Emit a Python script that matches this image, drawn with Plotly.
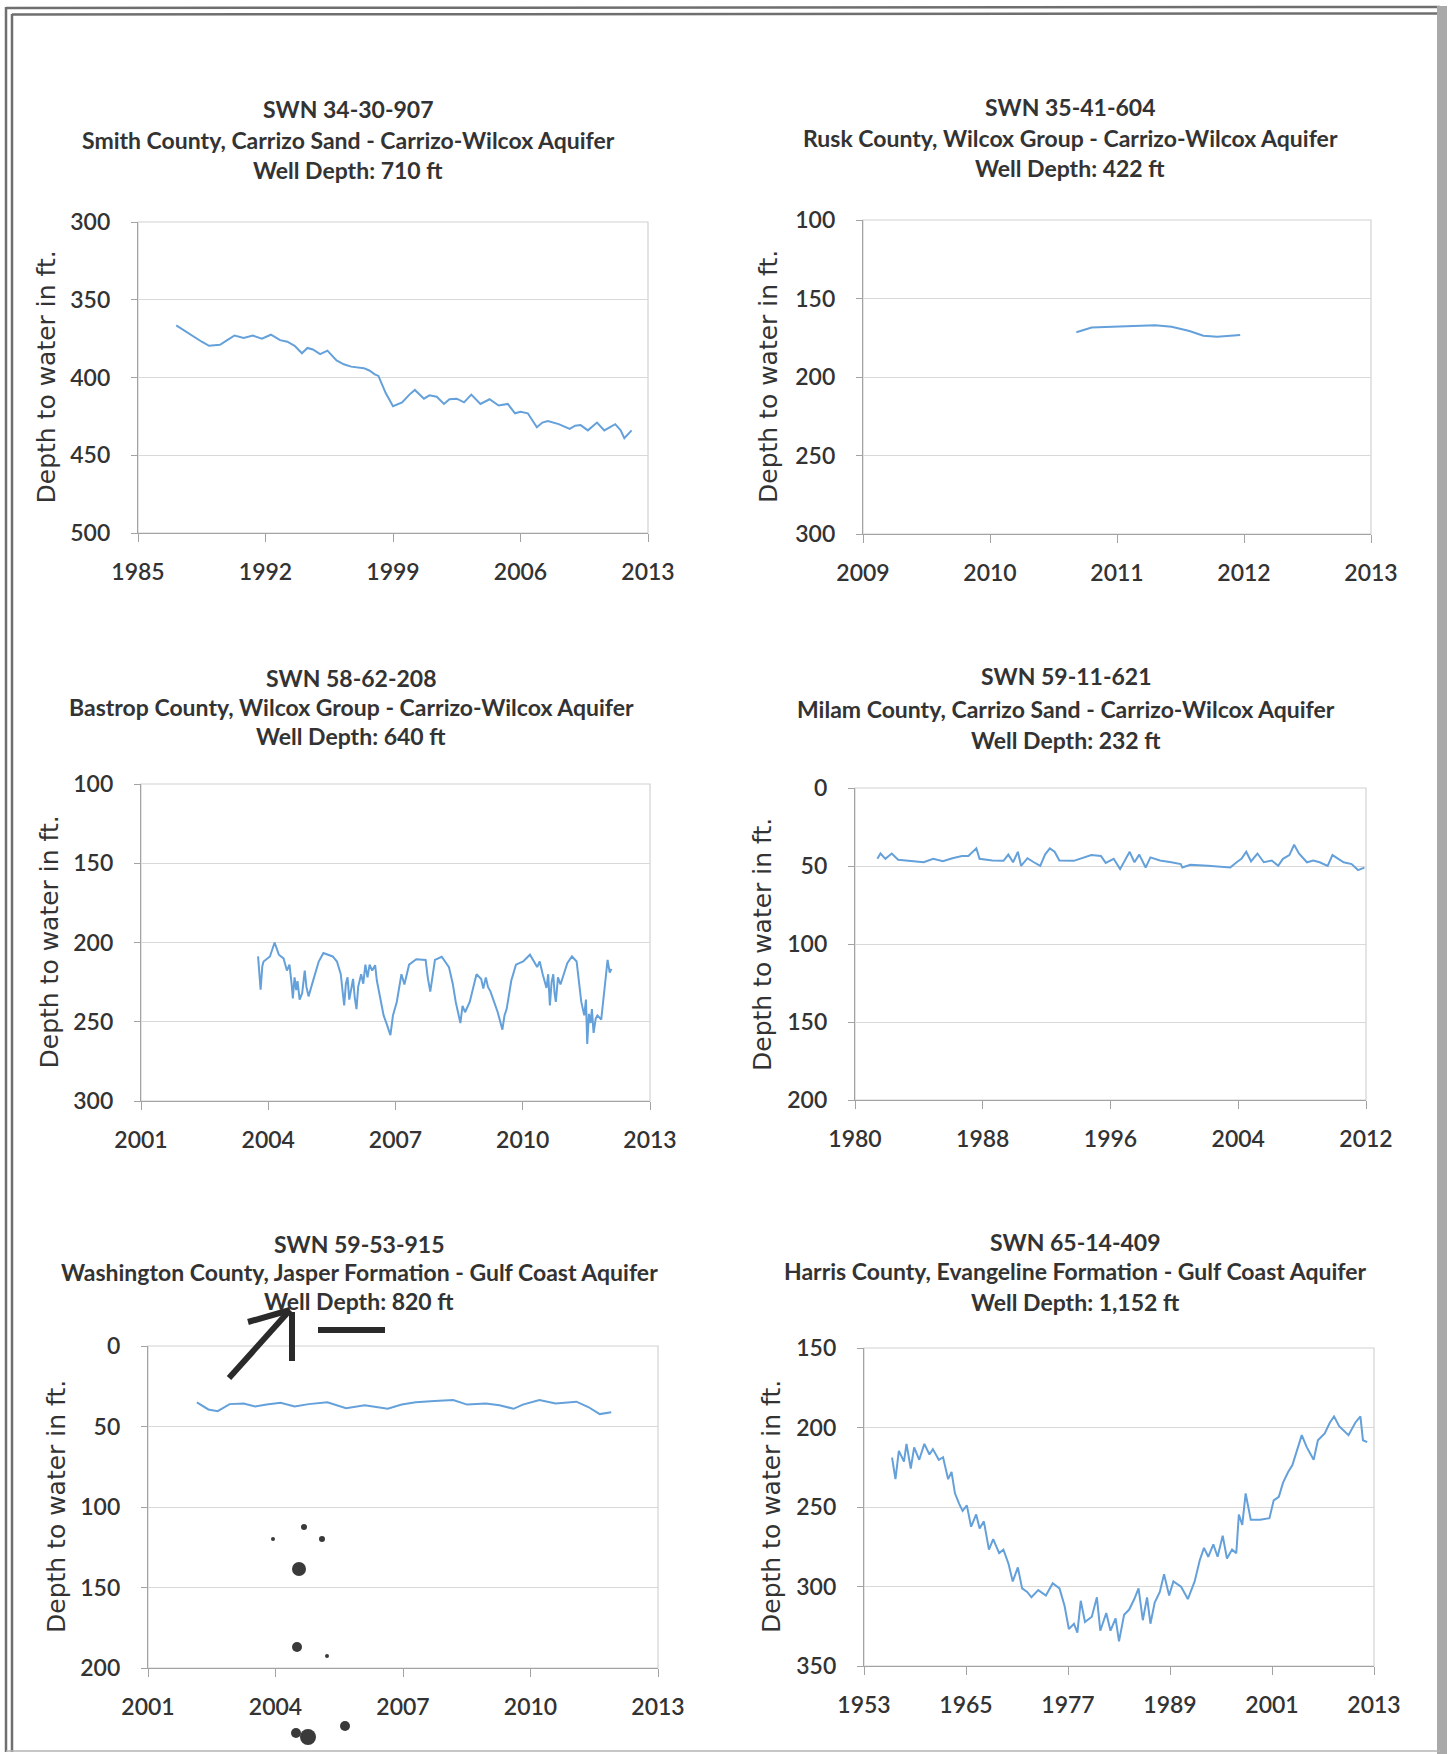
import plotly.graph_objects as go

W, H = 1454, 1754

# ---------------- data (decimal year, depth to water in ft) ----------------
smith_year = [1987.1, 1987.5, 1988.0, 1988.5, 1988.9, 1989.5, 1989.9, 1990.3, 1990.8, 1991.3, 1991.8,
              1992.3, 1992.8, 1993.2, 1993.6, 1994.0, 1994.3, 1994.6, 1995.0, 1995.4, 1995.9, 1996.3,
              1996.7, 1997.0, 1997.4, 1997.7, 1998.0, 1998.2, 1998.6, 1999.0, 1999.5, 1999.9, 2000.2,
              2000.7, 2001.0, 2001.4, 2001.8, 2002.1, 2002.5, 2002.9, 2003.3, 2003.8, 2004.3, 2004.8,
              2005.3, 2005.7, 2006.0, 2006.4, 2006.9, 2007.2, 2007.5, 2008.1, 2008.7, 2009.0, 2009.3,
              2009.7, 2010.2, 2010.6, 2010.9, 2011.2, 2011.5, 2011.7, 2012.1]
smith_depth = [366.5, 369.5, 373.5, 377.0, 379.6, 379.0, 376.0, 373.0, 374.5, 373.0, 375.0,
               372.5, 376.0, 377.0, 379.6, 384.4, 381.0, 382.0, 385.0, 382.7, 389.0, 391.5,
               393.0, 393.5, 394.0, 395.5, 398.0, 399.0, 410.0, 418.5, 416.0, 411.0, 408.0,
               413.6, 411.5, 412.4, 417.0, 414.0, 413.6, 416.0, 411.0, 417.0, 414.0, 418.0,
               417.0, 423.0, 422.0, 423.0, 432.0, 429.0, 428.0, 430.0, 433.0, 431.0, 430.6,
               434.0, 429.0, 434.0, 432.0, 430.0, 434.0, 439.0, 434.0]

rusk_year = [2010.68, 2010.8, 2011.02, 2011.3, 2011.43, 2011.57, 2011.68, 2011.79, 2011.97]
rusk_depth = [171.5, 168.5, 167.8, 167.0, 168.0, 170.7, 173.7, 174.4, 173.2]

bastrop_year = [2003.76, 2003.80, 2003.82, 2003.86, 2003.89, 2004.04, 2004.15, 2004.25, 2004.36, 2004.44,
                2004.5, 2004.55, 2004.58, 2004.62, 2004.66, 2004.69, 2004.74, 2004.8, 2004.86, 2004.9,
                2004.95, 2005.08, 2005.19, 2005.3, 2005.52, 2005.62, 2005.71, 2005.75, 2005.79, 2005.83,
                2005.87, 2005.91, 2005.95, 2006.0, 2006.04, 2006.08, 2006.12, 2006.19, 2006.24, 2006.29,
                2006.34, 2006.39, 2006.45, 2006.52, 2006.56, 2006.61, 2006.72, 2006.8, 2006.88, 2006.94,
                2007.03, 2007.14, 2007.21, 2007.32, 2007.49, 2007.71, 2007.76, 2007.82, 2007.88, 2007.93,
                2008.09, 2008.26, 2008.35, 2008.42, 2008.53, 2008.58, 2008.64, 2008.75, 2008.91, 2009.02,
                2009.07, 2009.13, 2009.18, 2009.24, 2009.41, 2009.52, 2009.57, 2009.62, 2009.73, 2009.84,
                2010.01, 2010.17, 2010.34, 2010.4, 2010.47, 2010.52, 2010.56, 2010.6, 2010.64, 2010.68,
                2010.72, 2010.75, 2010.78, 2010.83, 2010.89, 2011.05, 2011.16, 2011.27, 2011.38, 2011.45,
                2011.49, 2011.52, 2011.56, 2011.6, 2011.63, 2011.67, 2011.72, 2011.76, 2011.85, 2011.93,
                2012.0, 2012.05, 2012.09]
bastrop_depth = [208.8, 222.0, 229.8, 215.0, 212.0, 208.8, 200.0, 207.7, 210.0, 217.7,
                 214.0, 226.0, 235.3, 222.0, 230.0, 224.3, 236.0, 232.0, 217.7, 228.0,
                 234.0, 222.0, 212.0, 206.6, 208.8, 212.0, 220.0, 230.0, 239.7, 226.0,
                 222.0, 236.0, 231.0, 223.0, 235.0, 242.0, 228.0, 220.0, 226.0, 214.0,
                 222.0, 214.0, 217.7, 214.3, 224.0, 231.0, 246.0, 252.0, 258.5, 246.0,
                 237.5, 220.0, 226.5, 214.0, 210.6, 211.0, 222.0, 231.0, 218.0, 211.0,
                 209.0, 215.5, 226.0, 237.5, 250.8, 240.0, 244.0, 237.5, 220.0, 223.0,
                 229.0, 222.0, 228.0, 231.0, 244.0, 255.0, 246.0, 242.0, 224.0, 214.0,
                 212.0, 207.7, 215.5, 212.0, 220.0, 226.0, 228.7, 220.0, 239.7, 225.0,
                 220.0, 232.0, 237.5, 222.0, 226.5, 213.0, 208.8, 212.0, 237.5, 246.0,
                 236.0, 264.0, 245.0, 250.8, 242.0, 257.0, 248.0, 246.0, 248.6, 228.7,
                 211.0, 219.0, 216.6]

milam_year = [1981.4, 1981.6, 1981.9, 1982.3, 1982.7, 1983.5, 1984.3, 1984.9, 1985.5, 1986.1,
              1986.7, 1987.1, 1987.6, 1987.8, 1988.6, 1989.3, 1989.6, 1989.9, 1990.2, 1990.4,
              1990.8, 1991.2, 1991.6, 1991.9, 1992.2, 1992.5, 1992.8, 1993.7, 1994.8, 1995.4,
              1995.7, 1996.2, 1996.6, 1997.2, 1997.5, 1997.8, 1998.2, 1998.5, 1999.1, 1999.8,
              2000.4, 2000.5, 2001.0, 2002.1, 2003.5, 2003.9, 2004.2, 2004.5, 2004.8, 2005.2,
              2005.6, 2006.1, 2006.5, 2006.8, 2007.2, 2007.5, 2007.8, 2008.3, 2008.7, 2009.1,
              2009.6, 2009.9, 2010.3, 2010.6, 2011.1, 2011.5, 2011.9]
milam_depth = [45.4, 42.0, 45.4, 42.0, 46.0, 47.0, 47.6, 45.4, 47.0, 45.0,
               43.6, 43.6, 38.7, 45.4, 46.5, 46.7, 42.7, 47.6, 40.9, 49.9,
               45.0, 47.6, 49.9, 42.7, 38.7, 40.9, 46.5, 46.7, 43.0, 43.6,
               48.0, 45.4, 52.0, 40.9, 47.6, 42.7, 51.0, 44.5, 46.5, 47.6,
               48.8, 51.0, 49.2, 49.9, 51.0, 47.6, 45.4, 40.9, 47.0, 42.0,
               47.6, 46.5, 49.9, 45.4, 43.0, 36.4, 42.0, 47.6, 46.5, 47.6,
               49.9, 43.0, 45.4, 47.6, 48.8, 52.6, 51.0]

washington_year = [2002.15, 2002.42, 2002.64, 2002.92, 2003.25, 2003.52, 2003.79, 2004.12, 2004.45, 2004.78,
                   2005.22, 2005.66, 2006.1, 2006.64, 2006.97, 2007.3, 2007.74, 2008.18, 2008.51, 2008.95,
                   2009.27, 2009.6, 2009.82, 2010.21, 2010.59, 2011.08, 2011.36, 2011.63, 2011.9]
washington_depth = [35.0, 39.4, 40.5, 36.1, 35.7, 37.5, 36.4, 35.3, 37.5, 36.1,
                    35.0, 38.6, 36.8, 39.0, 36.4, 35.0, 34.2, 33.5, 36.4, 35.7,
                    36.8, 39.0, 36.4, 33.5, 35.7, 34.6, 37.9, 42.3, 41.2]

harris_year = [1956.3, 1956.7, 1957.1, 1957.7, 1958.0, 1958.5, 1958.9, 1959.5, 1960.1, 1960.7,
               1961.1, 1961.8, 1962.3, 1962.9, 1963.3, 1963.7, 1964.2, 1964.6, 1965.1, 1965.6,
               1966.2, 1966.6, 1967.1, 1967.7, 1968.2, 1968.9, 1969.4, 1970.0, 1970.5, 1971.1,
               1971.6, 1972.2, 1972.7, 1973.5, 1974.4, 1975.2, 1976.0, 1976.6, 1977.1, 1977.7,
               1978.1, 1978.5, 1979.0, 1979.8, 1980.4, 1980.8, 1981.5, 1982.0, 1982.6, 1983.0,
               1983.6, 1984.2, 1984.8, 1985.3, 1985.8, 1986.3, 1986.7, 1987.2, 1987.8, 1988.3,
               1988.9, 1989.4, 1990.3, 1991.1, 1991.9, 1992.5, 1993.0, 1993.5, 1994.1, 1994.6,
               1995.2, 1995.7, 1996.3, 1996.8, 1997.1, 1997.5, 1997.9, 1998.5, 1999.6, 2000.7,
               2001.2, 2001.8, 2002.3, 2002.9, 2003.4, 2004.0, 2004.5, 2005.1, 2005.9, 2006.4,
               2007.2, 2007.8, 2008.3, 2008.9, 2010.0, 2010.8, 2011.4, 2011.7, 2012.2]
harris_depth = [219.0, 232.5, 214.7, 221.4, 210.3, 225.8, 212.5, 220.3, 210.3, 217.0,
                213.6, 220.3, 218.7, 232.5, 228.0, 241.4, 248.0, 252.4, 249.0, 262.4,
                254.7, 263.5, 259.0, 276.8, 270.2, 279.0, 276.8, 285.7, 296.8, 288.0,
                301.2, 303.4, 306.8, 302.3, 305.7, 297.9, 301.2, 312.3, 326.7, 323.4,
                329.0, 309.0, 322.3, 319.0, 306.8, 327.8, 316.7, 327.8, 320.0, 334.5,
                317.8, 314.5, 307.9, 301.2, 321.2, 306.8, 323.4, 310.1, 303.4, 292.3,
                305.7, 296.8, 300.1, 307.9, 296.8, 283.5, 275.7, 281.3, 273.5, 281.3,
                268.0, 282.4, 276.8, 279.0, 254.7, 261.3, 241.4, 258.0, 258.0, 257.0,
                245.8, 243.6, 234.7, 228.0, 223.6, 212.5, 204.8, 212.5, 220.3, 208.0,
                203.7, 197.0, 193.0, 199.2, 204.8, 197.0, 193.0, 208.0, 209.2]

# ---------------- titles and tick labels ----------------
titles = [
    ["SWN 34-30-907", "Smith County, Carrizo Sand - Carrizo-Wilcox Aquifer", "Well Depth: 710 ft"],
    ["SWN 35-41-604", "Rusk County, Wilcox Group - Carrizo-Wilcox Aquifer", "Well Depth: 422 ft"],
    ["SWN 58-62-208", "Bastrop County, Wilcox Group - Carrizo-Wilcox Aquifer", "Well Depth: 640 ft"],
    ["SWN 59-11-621", "Milam County, Carrizo Sand - Carrizo-Wilcox Aquifer", "Well Depth: 232 ft"],
    ["SWN 59-53-915", "Washington County, Jasper Formation - Gulf Coast Aquifer", "Well Depth: 820 ft"],
    ["SWN 65-14-409", "Harris County, Evangeline Formation - Gulf Coast Aquifer", "Well Depth: 1,152 ft"],
]
x_ticks = [
    [1985, 1992, 1999, 2006, 2013],
    [2009, 2010, 2011, 2012, 2013],
    [2001, 2004, 2007, 2010, 2013],
    [1980, 1988, 1996, 2004, 2012],
    [2001, 2004, 2007, 2010, 2013],
    [1953, 1965, 1977, 1989, 2001, 2013],
]
y_ticks = [
    [300, 350, 400, 450, 500],
    [100, 150, 200, 250, 300],
    [100, 150, 200, 250, 300],
    [0, 50, 100, 150, 200],
    [0, 50, 100, 150, 200],
    [150, 200, 250, 300, 350],
]
y_title = "Depth to water in ft."

series = [
    (smith_year, smith_depth),
    (rusk_year, rusk_depth),
    (bastrop_year, bastrop_depth),
    (milam_year, milam_depth),
    (washington_year, washington_depth),
    (harris_year, harris_depth),
]

# ---------------- layout geometry (pixels) ----------------
boxes = [  # left, right, top, bottom
    (138, 648, 222, 533),
    (863, 1371, 220, 534),
    (141, 650, 784, 1101),
    (855, 1366, 788, 1100),
    (148, 658, 1346, 1668),
    (864, 1374, 1348, 1666),
]
title_cx = [348, 1070, 351, 1066, 359, 1075]
title_ys = [(109, 140, 170), (107, 138, 168), (678, 707, 736),
            (676, 709, 740), (1244, 1272, 1301), (1242, 1271, 1302)]
ytitle_x = [46, 769, 49, 762, 56, 771]

LINE_BLUE = "#64a0da"
TXT = "#333333"
AX = "#a3a3a3"
GRID = "#d9d9d9"
FONT = "Lato, Open Sans, sans-serif"


def px(x):
    return x / W


def py(y):
    return 1 - y / H


fig = go.Figure()
layout = dict(
    width=W, height=H,
    margin=dict(l=0, r=0, t=0, b=0, pad=0, autoexpand=False),
    paper_bgcolor="white", plot_bgcolor="white",
    showlegend=False,
    font=dict(family=FONT, color=TXT),
)
annotations = []
shapes = []

for i in range(6):
    n = "" if i == 0 else str(i + 1)
    L, R, T, B = boxes[i]
    xs, ys = series[i]
    fig.add_trace(go.Scatter(x=xs, y=ys, mode="lines",
                             line=dict(color=LINE_BLUE, width=2),
                             xaxis="x" + n, yaxis="y" + n, hoverinfo="skip"))
    xt = x_ticks[i]
    yt = y_ticks[i]
    layout["xaxis" + n] = dict(
        domain=[px(L), px(R)], anchor="y" + n, range=[xt[0], xt[-1]],
        tickmode="array", tickvals=xt, ticktext=[str(v) for v in xt],
        showgrid=False, zeroline=False, showline=True, linecolor=AX, linewidth=1.2,
        ticks="outside", ticklen=8, tickcolor=AX, tickwidth=1.2,
        ticklabelstandoff=10, automargin=False,
        tickfont=dict(family=FONT, size=23, color=TXT, weight=600),
    )
    layout["yaxis" + n] = dict(
        domain=[py(B), py(T)], anchor="x" + n, range=[yt[-1], yt[0]],
        tickmode="array", tickvals=yt, ticktext=[str(v) for v in yt],
        showgrid=True, gridcolor=GRID, gridwidth=1,
        zeroline=False, showline=True, linecolor=AX, linewidth=1.2,
        ticks="outside", ticklen=6, tickcolor=AX, tickwidth=1.2,
        ticklabelstandoff=16, automargin=False,
        tickfont=dict(family=FONT, size=23, color=TXT, weight=600),
    )
    # light plot-area border (top / right)
    shapes.append(dict(type="rect", xref="x" + n + " domain", yref="y" + n + " domain",
                       x0=0, x1=1, y0=0, y1=1, line=dict(color="#d2d2d2", width=1.2),
                       layer="below"))
    # titles
    for k, txt in enumerate(titles[i]):
        annotations.append(dict(text="<b>" + txt + "</b>", x=px(title_cx[i]), y=py(title_ys[i][k]),
                                xref="paper", yref="paper", showarrow=False,
                                xanchor="center", yanchor="middle",
                                font=dict(family=FONT, size=23, color=TXT)))
    # y-axis title
    annotations.append(dict(text=y_title, x=px(ytitle_x[i]), y=py((T + B) / 2),
                            xref="paper", yref="paper", showarrow=False, textangle=-90,
                            xanchor="center", yanchor="middle",
                            font=dict(family="DejaVu Sans, sans-serif", size=25, color=TXT)))

# ---------------- page frame (scanned document border) ----------------
frame = "#6f6f6f"
shapes += [
    dict(type="line", xref="paper", yref="paper", x0=px(6), x1=px(6), y0=py(7), y1=py(1752),
         line=dict(color=frame, width=2.5)),
    dict(type="line", xref="paper", yref="paper", x0=px(12), x1=px(12), y0=py(14), y1=py(1752),
         line=dict(color=frame, width=2.5)),
    dict(type="line", xref="paper", yref="paper", x0=px(6), x1=px(1440), y0=py(8), y1=py(7),
         line=dict(color=frame, width=2.5)),
    dict(type="line", xref="paper", yref="paper", x0=px(12), x1=px(1437), y0=py(14.5), y1=py(13.5),
         line=dict(color=frame, width=2.5)),
    dict(type="rect", xref="paper", yref="paper", x0=px(1437), x1=px(1447), y0=py(6), y1=py(1754),
         fillcolor="#a9a9a9", line=dict(width=0)),
    dict(type="line", xref="paper", yref="paper", x0=px(6), x1=px(1440), y0=py(1751), y1=py(1751),
         line=dict(color="#b5b5b5", width=1.5)),
]

# ---------------- hand-drawn marks on the scanned page ----------------
ink = "#2a2a2a"
shapes += [
    dict(type="path", xref="paper", yref="paper",
         path=f"M {px(229)},{py(1378)} L {px(290)},{py(1310)}",
         line=dict(color=ink, width=6)),
    dict(type="path", xref="paper", yref="paper",
         path=f"M {px(292)},{py(1361)} L {px(292)},{py(1312)}",
         line=dict(color=ink, width=6)),
    dict(type="path", xref="paper", yref="paper",
         path=f"M {px(248)},{py(1322)} L {px(290)},{py(1310)}",
         line=dict(color=ink, width=6)),
    dict(type="path", xref="paper", yref="paper",
         path=f"M {px(318)},{py(1330)} L {px(385)},{py(1330)}",
         line=dict(color=ink, width=6)),
]
spots = [(299, 1569, 7), (297, 1647, 5), (308, 1737, 8), (296, 1733, 5), (345, 1726, 5),
         (304, 1527, 3), (322, 1539, 3), (273, 1539, 2), (327, 1656, 2)]
for cx, cy, r in spots:
    shapes.append(dict(type="circle", xref="paper", yref="paper",
                       x0=px(cx - r), x1=px(cx + r), y0=py(cy + r), y1=py(cy - r),
                       fillcolor="#3a3a3a", line=dict(width=0)))

layout["annotations"] = annotations
layout["shapes"] = shapes
fig.update_layout(**layout)
fig.write_html("out.html", config={"displayModeBar": False},
               post_script="document.body.style.margin='0px';document.body.style.overflow='hidden';")
